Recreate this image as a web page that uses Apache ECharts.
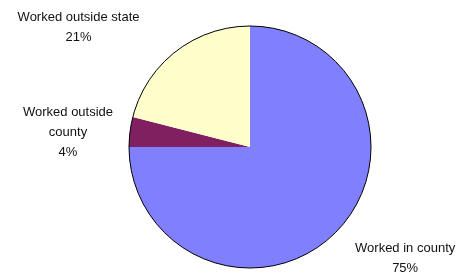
<!DOCTYPE html>
<html><head><meta charset="utf-8">
<script src="https://cdn.jsdelivr.net/npm/echarts@6/dist/echarts.min.js"></script>
<style>html,body{margin:0;padding:0;background:#fff;}#c{width:469px;height:273px;}</style>
</head><body><div id="c"></div>
<script>
var categories = ['Worked in county', 'Worked outside county', 'Worked outside state'];
var labelTexts = ['Worked in county', 'Worked outside\ncounty', 'Worked outside state'];
var values = [75, 4, 21];
var colors = ['#8080FF', '#802060', '#FFFFCC'];

// label nudges (layout only)
var labelOffsets = [[6, 17], [0, 2], [-24, -14]];

var chart = echarts.init(document.getElementById('c'), null, {renderer: 'canvas'});
var data = categories.map(function (c, i) {
  return {name: c, value: values[i], itemStyle: {color: colors[i]}};
});
chart.setOption({
  animation: false,
  series: [{
    type: 'pie',
    center: [250, 147],
    radius: [0, 121],
    startAngle: 90,
    clockwise: true,
    itemStyle: {borderWidth: 0},
    label: {
      show: true,
      position: 'outside',
      fontFamily: 'Liberation Sans, Arial, sans-serif',
      fontSize: 13,
      lineHeight: 20,
      color: '#111',
      formatter: function (p) { return labelTexts[p.dataIndex] + '\n' + p.value + '%'; }
    },
    labelLine: {show: false, length: 12, length2: 0},
    labelLayout: function (p) {
      var r = p.labelRect, o = labelOffsets[p.dataIndex];
      return {x: r.x + r.width / 2 + o[0], y: r.y + r.height / 2 + o[1], align: 'center', verticalAlign: 'middle'};
    },
    emphasis: {disabled: true},
    data: data
  }, {
    type: 'pie',
    silent: true,
    center: [250, 147],
    radius: [0, 121],
    label: {show: false},
    labelLine: {show: false},
    itemStyle: {color: 'rgba(0,0,0,0)', borderColor: '#000', borderWidth: 1},
    data: [{value: 1, name: 'outline'}]
  }]
});
</script></body></html>
